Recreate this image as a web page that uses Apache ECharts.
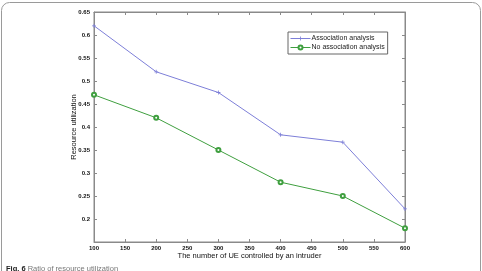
<!DOCTYPE html>
<html lang="en">
<head>
    <meta charset="utf-8">
    <title>Ratio of resource utilization</title>
    <style>
        html, body { margin: 0; padding: 0; background: #fff; }
        #chart { width: 482px; height: 271px; }
    </style>
</head>
<body>
<div id="chart"></div>
<script src="https://cdn.jsdelivr.net/npm/echarts@6/dist/echarts.min.js"></script>
<script type="text/javascript">
    // data
    var ueCount = [100, 200, 300, 400, 500, 600];
    var withAssoc = [0.62, 0.52, 0.475, 0.383, 0.367, 0.222];
    var noAssoc = [0.47, 0.42, 0.35, 0.28, 0.25, 0.18];
    var seriesNames = ['Association analysis', 'No association analysis'];

    function pairs(xs, ys) {
        return xs.map(function (x, i) { return [x, ys[i]]; });
    }

    var axisGrey = '#8a8a8a';
    var tickFont = {fontSize: 6, fontWeight: 'bold', color: '#111', fontFamily: 'Liberation Sans'};
    var plus = 'path://M4,0 L6,0 L6,4 L10,4 L10,6 L6,6 L6,10 L4,10 L4,6 L0,6 L0,4 L4,4 Z';

    var myChart = echarts.init(document.getElementById('chart'));
    myChart.setOption({
        animation: false,
        grid: {left: 94, right: 77, top: 12, bottom: 29, show: true, borderColor: axisGrey, borderWidth: 1},
        legend: {
            orient: 'vertical',
            left: 288,
            top: 32,
            padding: [3, 3, 3, 2],
            itemGap: 2,
            itemWidth: 20,
            itemHeight: 5,
            borderColor: '#666',
            borderWidth: 1,
            itemStyle: {borderWidth: 0.8},
            lineStyle: {width: 1},
            textStyle: {fontSize: 7, color: '#222', fontFamily: 'Liberation Sans', padding: [0, 0, 0, -4]},
            data: seriesNames
        },
        xAxis: [{
            type: 'value',
            min: 100, max: 600, interval: 50,
            name: 'The number of UE controlled by an intruder',
            nameLocation: 'middle',
            nameGap: 10,
            nameMoveOverlap: false,
            nameTextStyle: {fontSize: 7.5, color: '#111', fontFamily: 'Liberation Sans'},
            axisLine: {lineStyle: {color: axisGrey}},
            axisTick: {inside: true, length: 3, lineStyle: {color: axisGrey}},
            axisLabel: Object.assign({margin: 3}, tickFont),
            splitLine: {show: false}
        }, {
            type: 'value', position: 'top',
            min: 100, max: 600, interval: 50,
            axisLine: {lineStyle: {color: axisGrey}},
            axisTick: {inside: true, length: 3, lineStyle: {color: axisGrey}},
            axisLabel: {show: false},
            splitLine: {show: false}
        }],
        yAxis: [{
            type: 'value',
            min: 0.15, max: 0.65, interval: 0.05,
            name: 'Resource utilization',
            nameLocation: 'middle',
            nameGap: 16,
            nameMoveOverlap: false,
            nameTextStyle: {fontSize: 7.5, color: '#111', fontFamily: 'Liberation Sans'},
            axisLine: {lineStyle: {color: axisGrey}},
            axisTick: {inside: true, length: 3, lineStyle: {color: axisGrey}},
            axisLabel: Object.assign({
                margin: 4,
                formatter: function (v) {
                    var s = (+v.toFixed(2)).toString();
                    return s === '0.15' ? '' : s;
                }
            }, tickFont),
            splitLine: {show: false}
        }, {
            type: 'value', position: 'right',
            min: 0.15, max: 0.65, interval: 0.05,
            axisLine: {show: true, lineStyle: {color: axisGrey}},
            axisTick: {show: true, inside: true, length: 3, lineStyle: {color: axisGrey}},
            axisLabel: {show: false},
            splitLine: {show: false}
        }],
        series: [{
            name: seriesNames[0],
            type: 'line',
            data: pairs(ueCount, withAssoc),
            symbol: plus,
            symbolSize: 4,
            color: '#7d7fd8',
            lineStyle: {width: 1}
        }, {
            name: seriesNames[1],
            type: 'line',
            data: pairs(ueCount, noAssoc),
            symbol: 'emptyCircle',
            symbolSize: 4,
            color: '#3f9f3f',
            lineStyle: {width: 1},
            itemStyle: {borderWidth: 0.8}
        }],
        graphic: [{
            type: 'rect',
            shape: {x: 1.5, y: 2.5, width: 479, height: 300, r: 8},
            style: {fill: 'none', stroke: '#9a9a9a', lineWidth: 1},
            silent: true
        }, {
            type: 'text',
            left: 6,
            top: 265,
            style: {
                text: '{b|Fig. 6} Ratio of resource utilization',
                fontSize: 7.5,
                fill: '#777',
                fontFamily: 'Liberation Sans',
                rich: {b: {fontWeight: 'bold', fill: '#222', fontSize: 7.5, fontFamily: 'Liberation Sans'}}
            }
        }]
    });
</script>
</body>
</html>
